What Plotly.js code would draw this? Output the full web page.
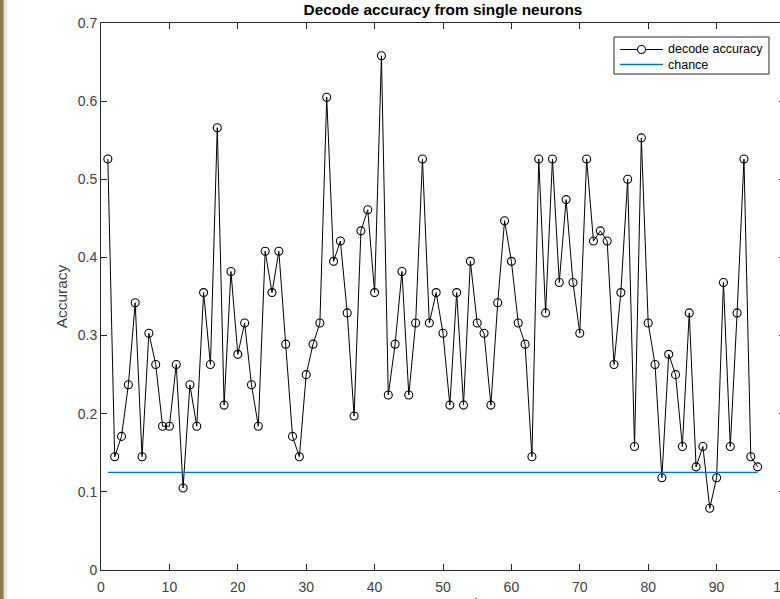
<!DOCTYPE html>
<html>
<head>
<meta charset="utf-8">
<script src="https://cdn.plot.ly/plotly-3.0.1.min.js"></script>
<style>
  html, body { margin: 0; padding: 0; background: #ffffff; overflow: hidden; }
  #wrap { position: relative; width: 780px; height: 599px; overflow: hidden; }
  #edge { position: absolute; left: 0; top: 0; width: 8px; height: 599px; z-index: 5;
          background: linear-gradient(to right, #8a7c4c 0px, #8a7c4c 3px, #dcdad0 4px, #f6f6f4 8px); }
  #chart { position: absolute; left: 0; top: 0; width: 800px; height: 640px; }
</style>
</head>
<body>
<div id="wrap">
  <div id="edge"></div>
  <div id="chart"></div>
</div>
<script>
// Neuron indices along the x axis
const neuronIdx = [
  1, 2, 3, 4, 5, 6, 7, 8, 9, 10,
  11, 12, 13, 14, 15, 16, 17, 18, 19, 20,
  21, 22, 23, 24, 25, 26, 27, 28, 29, 30,
  31, 32, 33, 34, 35, 36, 37, 38, 39, 40,
  41, 42, 43, 44, 45, 46, 47, 48, 49, 50,
  51, 52, 53, 54, 55, 56, 57, 58, 59, 60,
  61, 62, 63, 64, 65, 66, 67, 68, 69, 70,
  71, 72, 73, 74, 75, 76, 77, 78, 79, 80,
  81, 82, 83, 84, 85, 86, 87, 88, 89, 90,
  91, 92, 93, 94, 95, 96
];

// Decode accuracy obtained from each single neuron
const decodeAccuracy = [
  0.526, 0.145, 0.171, 0.237, 0.342, 0.145, 0.303, 0.263, 0.184, 0.184,
  0.263, 0.105, 0.237, 0.184, 0.355, 0.263, 0.566, 0.211, 0.382, 0.276,
  0.316, 0.237, 0.184, 0.408, 0.355, 0.408, 0.289, 0.171, 0.145, 0.250,
  0.289, 0.316, 0.605, 0.395, 0.421, 0.329, 0.197, 0.434, 0.461, 0.355,
  0.658, 0.224, 0.289, 0.382, 0.224, 0.316, 0.526, 0.316, 0.355, 0.303,
  0.211, 0.355, 0.211, 0.395, 0.316, 0.303, 0.211, 0.342, 0.447, 0.395,
  0.316, 0.289, 0.145, 0.526, 0.329, 0.526, 0.368, 0.474, 0.368, 0.303,
  0.526, 0.421, 0.434, 0.421, 0.263, 0.355, 0.500, 0.158, 0.553, 0.316,
  0.263, 0.118, 0.276, 0.250, 0.158, 0.329, 0.132, 0.158, 0.079, 0.118,
  0.368, 0.158, 0.329, 0.526, 0.145, 0.132
];

// Chance level (8 classes) across the neuron range
const chanceX = [1, 96];
const chanceY = [0.125, 0.125];

const xTicks = [0, 10, 20, 30, 40, 50, 60, 70, 80, 90, 100];
const yTicks = [0, 0.1, 0.2, 0.3, 0.4, 0.5, 0.6, 0.7];
const yTickText = ['0', '0.1', '0.2', '0.3', '0.4', '0.5', '0.6', '0.7'];

const seriesNames = ['decode accuracy', 'chance'];

const FONT = 'Liberation Sans, Arial, Helvetica, sans-serif';
const AXIS_COLOR = '#262626';
const TICK_TEXT = '#404040';
const ACC_COLOR = '#000000';
const CHANCE_COLOR = '#0072BD';

const traces = [
  {
    x: neuronIdx,
    y: decodeAccuracy,
    name: seriesNames[0],
    type: 'scatter',
    mode: 'lines+markers',
    line: { color: ACC_COLOR, width: 1 },
    marker: { symbol: 'circle-open', size: 8, color: ACC_COLOR, line: { width: 1.1, color: ACC_COLOR } },
    showlegend: false
  },
  {
    x: chanceX,
    y: chanceY,
    name: seriesNames[1],
    type: 'scatter',
    mode: 'lines',
    line: { color: CHANCE_COLOR, width: 1.3 },
    showlegend: false
  }
];

// Plot-area geometry (pixels) used to place the boxed legend in paper coordinates
const PLOT_L = 101, PLOT_W = 684, PLOT_T = 23, PLOT_H = 547;
const px = v => (v - PLOT_L) / PLOT_W;
const py = v => (PLOT_T + PLOT_H - v) / PLOT_H;

// Boxed legend in the upper-right corner of the axes
const legBox = { x0: 614, x1: 769, y0: 37, y1: 74 };
const legRows = [49.5, 64.5];
const legLine = { x0: 620, x1: 663 };
const legTextX = 666;

const legendShapes = [
  { type: 'rect', xref: 'paper', yref: 'paper',
    x0: px(legBox.x0), x1: px(legBox.x1), y0: py(legBox.y1), y1: py(legBox.y0),
    fillcolor: '#ffffff', line: { color: AXIS_COLOR, width: 1 }, layer: 'above' },
  { type: 'line', xref: 'paper', yref: 'paper',
    x0: px(legLine.x0), x1: px(legLine.x1), y0: py(legRows[0]), y1: py(legRows[0]),
    line: { color: ACC_COLOR, width: 1 }, layer: 'above' },
  { type: 'circle', xref: 'paper', yref: 'paper',
    x0: px((legLine.x0 + legLine.x1) / 2 - 4), x1: px((legLine.x0 + legLine.x1) / 2 + 4),
    y0: py(legRows[0] + 4), y1: py(legRows[0] - 4),
    fillcolor: '#ffffff', line: { color: ACC_COLOR, width: 1.1 }, layer: 'above' },
  { type: 'line', xref: 'paper', yref: 'paper',
    x0: px(legLine.x0), x1: px(legLine.x1), y0: py(legRows[1]), y1: py(legRows[1]),
    line: { color: CHANCE_COLOR, width: 1.3 }, layer: 'above' }
];

const legendLabels = seriesNames.map((name, i) => ({
  text: name, xref: 'paper', yref: 'paper',
  x: px(legTextX), y: py(legRows[i]), xanchor: 'left', yanchor: 'middle',
  showarrow: false, font: { family: FONT, size: 12.5, color: '#000000' }
}));

const axisCommon = {
  showline: true,
  linecolor: AXIS_COLOR,
  linewidth: 1,
  mirror: 'ticks',
  ticks: 'inside',
  ticklen: 6,
  tickwidth: 1,
  tickcolor: AXIS_COLOR,
  showgrid: false,
  zeroline: false,
  automargin: false,
  tickfont: { family: FONT, size: 14, color: TICK_TEXT }
};

const layout = {
  width: 800,
  height: 640,
  margin: { l: PLOT_L, r: 800 - PLOT_L - PLOT_W, t: PLOT_T, b: 640 - PLOT_T - PLOT_H, pad: 0 },
  paper_bgcolor: '#ffffff',
  plot_bgcolor: '#ffffff',
  font: { family: FONT, color: '#000000' },
  title: {
    text: '<b>Decode accuracy from single neurons</b>',
    font: { family: FONT, size: 15.4, color: '#000000' },
    xref: 'paper', x: 0.5, xanchor: 'center',
    yref: 'container', y: 1 - 9.5 / 640, yanchor: 'middle'
  },
  xaxis: Object.assign({}, axisCommon, {
    range: [0, 100],
    tickmode: 'array',
    tickvals: xTicks,
    ticktext: xTicks.map(String),
    ticklabelstandoff: 4,
    title: { text: 'Neuron number', font: { family: FONT, size: 15.4, color: TICK_TEXT }, standoff: 0 }
  }),
  yaxis: Object.assign({}, axisCommon, {
    range: [0, 0.7],
    tickmode: 'array',
    tickvals: yTicks,
    ticktext: yTickText,
    ticklabelstandoff: 0,
    title: { text: 'Accuracy', font: { family: FONT, size: 15.4, color: TICK_TEXT }, standoff: 6 }
  }),
  showlegend: false,
  shapes: legendShapes,
  annotations: legendLabels
};

Plotly.newPlot('chart', traces, layout, { displayModeBar: false, staticPlot: true });
</script>
</body>
</html>
